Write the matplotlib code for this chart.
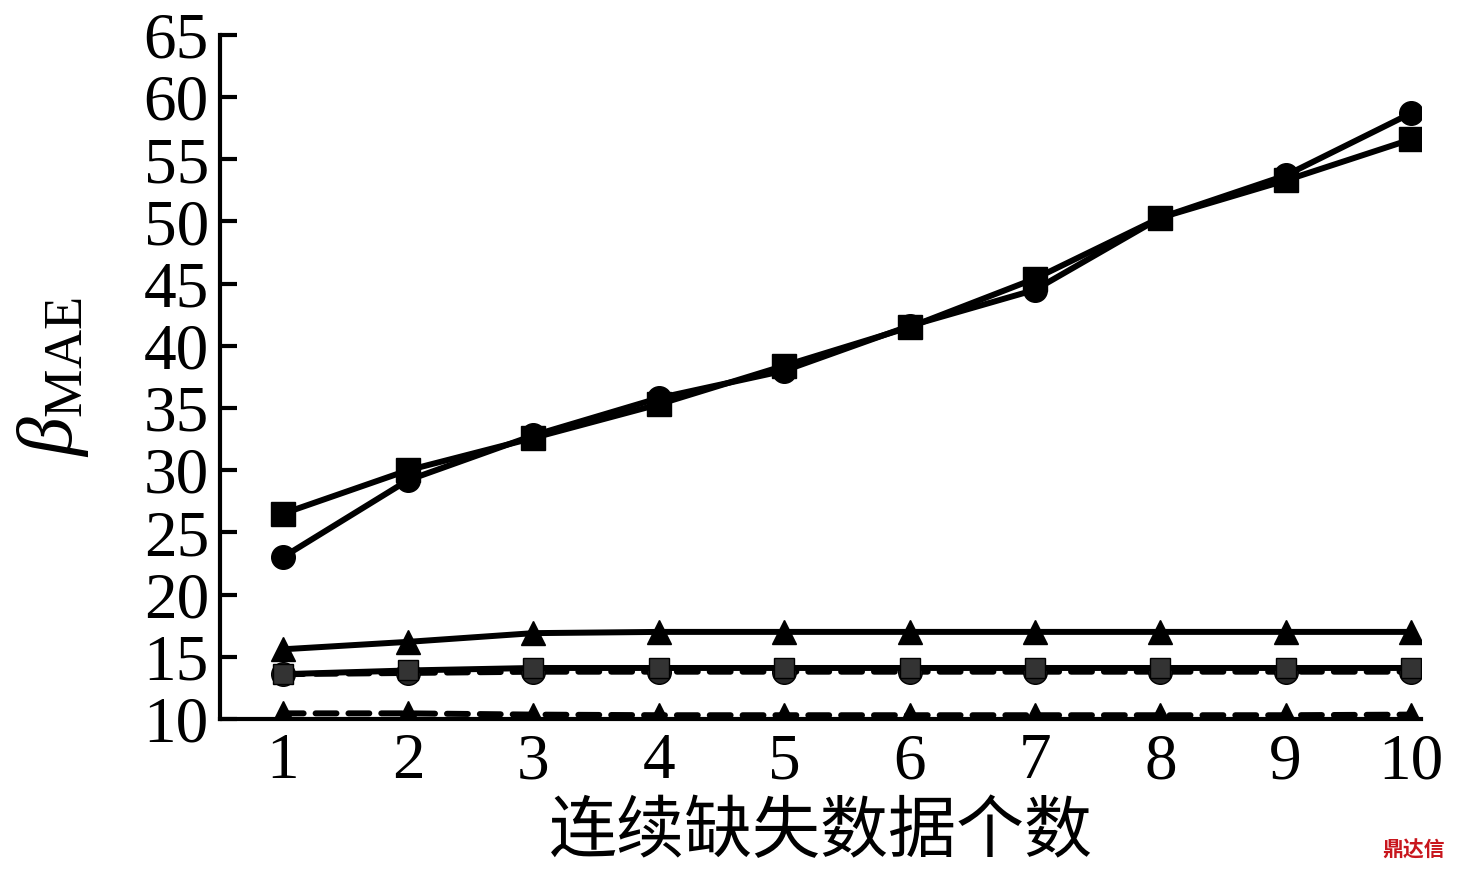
import numpy as np
import matplotlib.pyplot as plt

plt.rcParams['font.family'] = ['Liberation Serif', 'Noto Sans CJK SC', 'DejaVu Sans']
plt.rcParams['mathtext.fontset'] = 'custom'
plt.rcParams['mathtext.rm'] = 'Liberation Serif'
plt.rcParams['mathtext.it'] = 'Liberation Serif:italic'

# x: number of consecutive missing points
x = [1, 2, 3, 4, 5, 6, 7, 8, 9, 10]

# series
circ_solid = [23.0, 29.2, 32.8, 35.8, 38.0, 41.6, 44.5, 50.3, 53.7, 58.7]
sq_solid = [26.5, 30.0, 32.6, 35.3, 38.4, 41.5, 45.4, 50.3, 53.3, 56.6]
tri_solid = [15.6, 16.2, 16.9, 17.0, 17.0, 17.0, 17.0, 17.0, 17.0, 17.0]
sq_grey = [13.6, 13.9, 14.1, 14.1, 14.1, 14.1, 14.1, 14.1, 14.1, 14.1]
circ_dash = [13.6, 13.7, 13.8, 13.8, 13.8, 13.8, 13.8, 13.8, 13.8, 13.8]
tri_dash = [10.45, 10.45, 10.35, 10.3, 10.3, 10.3, 10.3, 10.3, 10.3, 10.35]

yticks = [10, 15, 20, 25, 30, 35, 40, 45, 50, 55, 60, 65]

fig = plt.figure(figsize=(14.67, 8.72), dpi=100)
ax = fig.add_axes([0.15, 0.1755, 0.8187, 0.7845])

lw = 4.3
ms = 17
ax.plot(x, tri_dash, color='k', lw=lw, marker='^', ms=ms, dashes=(3.5, 2),
        dash_capstyle='round')
ax.plot(x, circ_dash, color='k', lw=lw, marker='o', ms=ms, mfc='0.15', dashes=(3.5, 2),
        dash_capstyle='round')
ax.plot(x, sq_grey, color='k', lw=lw, marker='s', ms=ms - 2, mfc='0.2')
ax.plot(x, tri_solid, color='k', lw=lw, marker='^', ms=ms)
ax.plot(x, circ_solid, color='k', lw=lw, marker='o', ms=ms)
ax.plot(x, sq_solid, color='k', lw=lw, marker='s', ms=ms)

ax.set_xlim(0.5, 10.08)
ax.set_ylim(10, 65)
ax.set_xticks(x)
ax.set_yticks(yticks)
ax.tick_params(axis='x', length=0, labelsize=47, pad=10)
ax.tick_params(axis='y', direction='in', length=12, width=3, labelsize=47, pad=8)
for s in ['top', 'right']:
    ax.spines[s].set_visible(False)
for s in ['left', 'bottom']:
    ax.spines[s].set_linewidth(3)

ax.set_xlabel('连续缺失数据个数', fontsize=49, labelpad=4,
              family=['Noto Sans CJK SC', 'DejaVu Sans'])
ax.set_ylabel(r'$\beta_{\mathrm{MAE}}$', fontsize=56, labelpad=38)

fig.text(0.985, 0.025, '鼎达信', color='#c8161d', fontsize=15, fontweight='bold',
         ha='right', va='center', family=['Noto Sans CJK SC'])

fig.savefig('out.png', dpi=100)
